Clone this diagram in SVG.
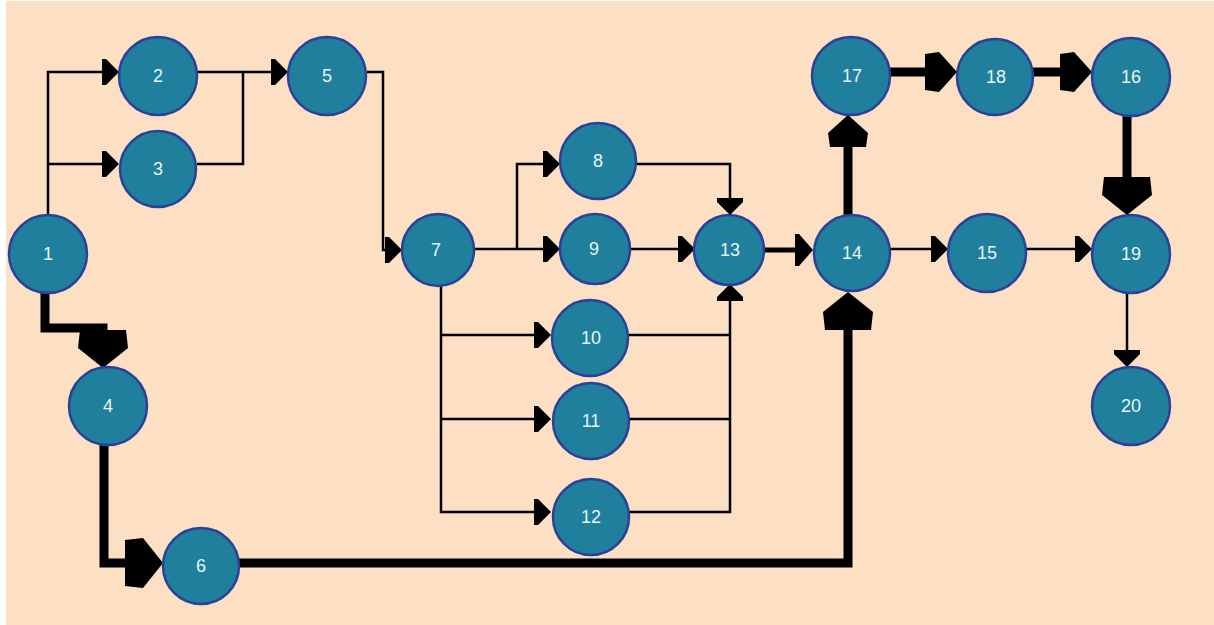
<svg xmlns="http://www.w3.org/2000/svg" width="1214" height="625" viewBox="0 0 1214 625">
<style>
.bg{fill:#fddfc4}
.n circle{fill:#1f7f9c;stroke:#2c4098;stroke-width:2.5}
.n text{fill:#e6f6f3;font-family:"Liberation Sans",Arial,sans-serif;font-size:18px;text-anchor:middle}
.c path{fill:none;stroke:#000;stroke-linejoin:miter}
.thin{stroke-width:2.5;marker-end:url(#aThin)}
.plain{stroke-width:2.5}
.med{stroke-width:5;marker-end:url(#aMed)}
.tb{stroke-width:9;marker-end:url(#aB)}
.ta{stroke-width:9;marker-end:url(#aA)}
</style>
<defs>
<marker id="aThin" markerUnits="userSpaceOnUse" viewBox="0 -13 17 26" markerWidth="17" markerHeight="26" refX="0" refY="0" orient="auto" overflow="visible"><path d="M0,-13 L4,-13 L17,0 L4,13 L0,13 Z" fill="#000"/></marker>
<marker id="aMed" markerUnits="userSpaceOnUse" viewBox="0 -16 18 32" markerWidth="18" markerHeight="32" refX="0" refY="0" orient="auto" overflow="visible"><path d="M0,-16 L4,-16 L18,0 L4,16 L0,16 Z" fill="#000"/></marker>
<marker id="aB" markerUnits="userSpaceOnUse" viewBox="0 -20 32 40" markerWidth="32" markerHeight="40" refX="0" refY="0" orient="auto" overflow="visible"><path d="M0,-18 L14,-20 L32,0 L14,20 L0,18 Z" fill="#000"/></marker>
<marker id="aA" markerUnits="userSpaceOnUse" viewBox="0 -25 38 50" markerWidth="38" markerHeight="50" refX="0" refY="0" orient="auto" overflow="visible"><path d="M0,-23 L18,-25 L38,0 L18,25 L0,23 Z" fill="#000"/></marker>
</defs>
<rect width="1214" height="625" fill="#fff"/>
<rect class="bg" x="6" y="1" width="1208" height="624"/>
<g id="connectors" class="c">
<path class="thin" d="M48,215 V72 H102"/>
<path class="thin" d="M48,164 H102"/>
<path class="thin" d="M197,72 H271"/>
<path class="plain" d="M197,164 H243 V72"/>
<path class="thin" d="M367,72 H383 V250 H385"/>
<path class="thin" d="M474,249 H543"/>
<path class="thin" d="M517,249 V164 H543"/>
<path class="thin" d="M637,164 H730 V198"/>
<path class="thin" d="M629,249 H678"/>
<path class="thin" d="M441,286 V512 H534"/>
<path class="thin" d="M441,335 H534"/>
<path class="thin" d="M441,419 H534"/>
<path class="plain" d="M628,335 H730"/>
<path class="plain" d="M628,419 H730"/>
<path class="thin" d="M628,512 H730 V301"/>
<path class="med" d="M763,250 H795"/>
<path class="thin" d="M890,249 H931"/>
<path class="thin" d="M1026,249 H1075"/>
<path class="thin" d="M1127,293 V350"/>
<path class="tb" d="M848,215 V147"/>
<path class="tb" d="M890,72 H925"/>
<path class="tb" d="M1033,72 H1060"/>
<path class="ta" d="M1127,115 V177"/>
<path class="ta" d="M45,292 V328 H103 V330"/>
<path class="ta" d="M104,445 V563 H125"/>
<path class="ta" d="M239,563 H848 V330"/>
</g>
<g id="n1" class="n"><circle cx="48" cy="254" r="39"/><text x="48" y="260">1</text></g>
<g id="n2" class="n"><circle cx="158" cy="76" r="39"/><text x="158" y="82">2</text></g>
<g id="n3" class="n"><circle cx="158" cy="169" r="38"/><text x="158" y="175">3</text></g>
<g id="n4" class="n"><circle cx="108" cy="406" r="39"/><text x="108" y="412">4</text></g>
<g id="n5" class="n"><circle cx="327" cy="76" r="39"/><text x="327" y="82">5</text></g>
<g id="n6" class="n"><circle cx="201" cy="566" r="38"/><text x="201" y="572">6</text></g>
<g id="n7" class="n"><circle cx="438" cy="250" r="36"/><text x="436" y="256">7</text></g>
<g id="n8" class="n"><circle cx="598" cy="161" r="38"/><text x="598" y="167">8</text></g>
<g id="n9" class="n"><circle cx="595" cy="249" r="35"/><text x="594" y="255">9</text></g>
<g id="n10" class="n"><circle cx="590" cy="338" r="38"/><text x="591" y="344">10</text></g>
<g id="n11" class="n"><circle cx="591" cy="421" r="38"/><text x="591" y="427">11</text></g>
<g id="n12" class="n"><circle cx="591" cy="517" r="38"/><text x="591" y="523">12</text></g>
<g id="n13" class="n"><circle cx="729" cy="250" r="35"/><text x="730" y="256">13</text></g>
<g id="n14" class="n"><circle cx="852" cy="253" r="38"/><text x="852" y="259">14</text></g>
<g id="n15" class="n"><circle cx="987" cy="253" r="39"/><text x="987" y="259">15</text></g>
<g id="n16" class="n"><circle cx="1131" cy="77" r="39"/><text x="1131" y="83">16</text></g>
<g id="n17" class="n"><circle cx="851" cy="76" r="39"/><text x="852" y="82">17</text></g>
<g id="n18" class="n"><circle cx="995" cy="77" r="38"/><text x="996" y="83">18</text></g>
<g id="n19" class="n"><circle cx="1131" cy="254" r="39"/><text x="1131" y="260">19</text></g>
<g id="n20" class="n"><circle cx="1131" cy="406" r="39"/><text x="1131" y="412">20</text></g>
</svg>
